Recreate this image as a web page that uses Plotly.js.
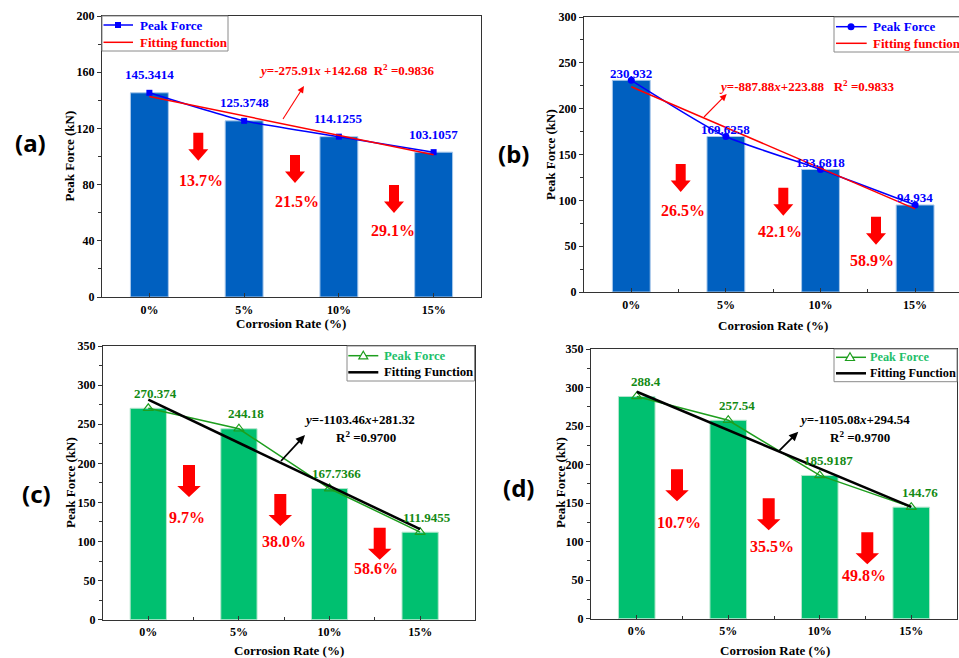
<!DOCTYPE html>
<html><head><meta charset="utf-8">
<script src="https://cdn.plot.ly/plotly-3.0.1.min.js"></script>
<style>html,body{margin:0;padding:0;background:#fff}</style>
</head><body><div id="chart" style="width:959px;height:658px"></div>
<script>
// ---------- data ----------
const categories = ['0%', '5%', '10%', '15%'];
const peakA = [145.3414, 125.3748, 114.1255, 103.1057];
const fitA  = [142.68, 101.29];
const dropA = ['13.7%', '21.5%', '29.1%'];
const peakB = [230.932, 169.6258, 133.6818, 94.934];
const fitB  = [223.88, 90.7];
const dropB = ['26.5%', '42.1%', '58.9%'];
const peakC = [270.374, 244.18, 167.7366, 111.9455];
const fitC  = [281.32, 115.8];
const dropC = ['9.7%', '38.0%', '58.6%'];
const peakD = [288.4, 257.54, 185.9187, 144.76];
const fitD  = [294.54, 145.0];
const dropD = ['10.7%', '35.5%', '49.8%'];
const eqA = ['<i>y</i>=-275.91<i>x</i> +142.68\u00a0\u00a0R<sup>2</sup> =0.9836'];
const eqB = ['<i>y</i>=-887.88<i>x</i>+223.88\u00a0\u00a0\u00a0R<sup>2</sup> =0.9833'];
const eqC = ['<i>y</i>=-1103.46<i>x</i>+281.32', 'R<sup>2</sup> =0.9700'];
const eqD = ['<i>y</i>=-1105.08<i>x</i>+294.54', 'R<sup>2</sup> =0.9700'];
const panelLabels = ['(a)', '(b)', '(c)', '(d)'];
const seriesName = 'Peak Force';
const fitNames = ['Fitting function', 'Fitting function', 'Fitting Function', 'Fitting Function'];

// ---------- layout helpers ----------
const W = 959, H = 658;
const fx = p => p / W, fy = p => 1 - p / H;
const SERIF = 'Liberation Serif';
const AX = '#333333';

const panels = [
  {k:'', peak:peakA, fit:fitA, drop:dropA, eq:eqA, label:panelLabels[0], fitName:fitNames[0],
   px:[102,481], py:[16,297], xr:[-0.5,3.5], yr:[0,200], dt:40, mdt:20, mirrorY:true, xminor:false,
   bar:'#0060C0', barLine:'#a9c8ea', line:'#0000FF', mk:'square', spline:true,
   fitColor:'#FF0000', fitW:1.5, lab:'#0000FF', shift:[0,18], peakLeg:'#0000FF', fitLeg:'#FF0000',
   legBox:[102,16,228,51], legRows:[25,42.3], legLine:[103.5,133], legMk:118, legTx:137.7, legFs:13,
   arrows:[[198.3,132.7],[295,155],[394,185]], arr:[20,10,28,11.5],
   dropPos:[[201.3,180],[296.7,201.7],[392.5,230]],
   eqPos:[[347,70]], ptr:[304,86,283,119], ptrColor:'#FF0000', ptrW:1.1,
   ytitle:[69,156.5], xtitle:[291,323], plab:[30,142.5]},
  {k:'2', peak:peakB, fit:fitB, drop:dropB, eq:eqB, label:panelLabels[1], fitName:fitNames[1],
   px:[584,959], py:[17,292], xr:[-0.5,3.464], yr:[0,300], dt:50, mdt:25, mirrorY:false, xminor:true,
   bar:'#0060C0', barLine:'#a9c8ea', line:'#0000FF', mk:'circle', spline:true,
   fitColor:'#FF0000', fitW:1.5, lab:'#0000FF', shift:[0,7], peakLeg:'#0000FF', fitLeg:'#FF0000',
   legBox:[834,17,964,52], legRows:[26.7,43.3], legLine:[836,866.7], legMk:851, legTx:870.7, legFs:13,
   arrows:[[680.7,164],[783.3,187.7],[876,216.7]], arr:[20,10,28,11.5],
   dropPos:[[683.3,211],[779.7,231.7],[871.7,260]],
   eqPos:[[806.7,86]], ptr:[726.7,94,704,117], ptrColor:'#FF0000', ptrW:1.1,
   ytitle:[550,155], xtitle:[773,325], plab:[513.8,153.8]},
  {k:'3', peak:peakC, fit:fitC, drop:dropC, eq:eqC, label:panelLabels[2], fitName:fitNames[2],
   px:[103,474.5], py:[346,619.7], xr:[-0.5,3.6], yr:[0,350], dt:50, mdt:25, mirrorY:true, xminor:true,
   bar:'#00C070', barLine:'#b5e6cd', line:'#1E9E1E', mk:'triangle', spline:false,
   fitColor:'#000000', fitW:2.5, lab:'#138A13', shift:[7,15], peakLeg:'#1DBF6A', fitLeg:'#000000',
   legBox:[347,346,474.5,381], legRows:[355.7,372.3], legLine:[348.3,378.3], legMk:363.3, legTx:382.3, legFs:12.8,
   arrows:[[189,465],[280.3,494],[379.7,527.7]], arr:[23.5,12,32,11],
   dropPos:[[186.7,517.3],[284,541.7],[375.7,568.3]],
   eqPos:[[359,419.3],[365.5,437]], ptr:[305,435,281,461], ptrColor:'#000000', ptrW:1.8,
   ytitle:[70,483], xtitle:[289,650], plab:[36.3,493.3]},
  {k:'4', peak:peakD, fit:fitD, drop:dropD, eq:eqD, label:panelLabels[3], fitName:fitNames[3],
   px:[591,957], py:[349,618.7], xr:[-0.5,3.5], yr:[0,350], dt:50, mdt:25, mirrorY:true, xminor:true,
   bar:'#00C070', barLine:'#b5e6cd', line:'#1E9E1E', mk:'triangle', spline:false,
   fitColor:'#000000', fitW:2.5, lab:'#138A13', shift:[9,15], peakLeg:'#1DBF6A', fitLeg:'#000000',
   legBox:[834,349,957,381.7], legRows:[357.3,373.3], legLine:[836,866], legMk:850, legTx:868, legFs:12.3,
   arrows:[[677,469.3],[768.7,498.3],[867.3,532.3]], arr:[23.5,12,32,11],
   dropPos:[[679.2,522.3],[771.7,546.7],[863.5,575]],
   eqPos:[[854.3,419.3],[860,437.3]], ptr:[798.3,431.7,779.3,450.7], ptrColor:'#000000', ptrW:1.8,
   ytitle:[560,483], xtitle:[774.7,650], plab:[518,487.5]}
];

const markerDefs = {
  square:   {symbol:'square', size:6},
  circle:   {symbol:'circle', size:7},
  triangle: {symbol:'triangle-up-open', size:9, line:{width:1.2}}
};

const traces = [];
const layout = {
  width: W, height: H, margin: {l:0, r:0, t:0, b:0},
  paper_bgcolor: '#ffffff', plot_bgcolor: '#ffffff',
  showlegend: false, annotations: [], shapes: [],
  font: {family: SERIF, size: 13, color: '#000'}
};

function blockArrow(cx, top, w, s, ht, hh) {
  const a = -(ht - hh);
  return {type:'path', xref:'paper', yref:'paper', xsizemode:'pixel', ysizemode:'pixel',
    xanchor: fx(cx), yanchor: fy(top),
    path:`M${-s/2},0 L${s/2},0 L${s/2},${a} L${w/2},${a} L0,${-ht} L${-w/2},${a} L${-s/2},${a} Z`,
    fillcolor:'#FF0000', line:{width:0}, layer:'above'};
}
// thin pointer arrow from tail (tx,ty) to head (hx,hy), pixel coords (y down)
function pointer(hx, hy, tx, ty, color, w) {
  const dx = hx - tx, dy = hy - ty, len = Math.hypot(dx, dy);
  const ux = dx / len, uy = dy / len;
  const L = 3 + 3.5 * w, hw = 1.5 + 1.6 * w;
  const p1 = [-L * ux - hw * uy, -L * uy + hw * ux];
  const p2 = [-L * ux + hw * uy, -L * uy - hw * ux];
  const out = [];
  out.push({type:'line', xref:'paper', yref:'paper', x0: fx(tx), y0: fy(ty),
    x1: fx(hx - 0.6 * L * ux), y1: fy(hy - 0.6 * L * uy), line:{color: color, width: w}, layer:'above'});
  out.push({type:'path', xref:'paper', yref:'paper', xsizemode:'pixel', ysizemode:'pixel',
    xanchor: fx(hx), yanchor: fy(hy),
    path:`M0,0 L${p1[0].toFixed(2)},${(-p1[1]).toFixed(2)} L${p2[0].toFixed(2)},${(-p2[1]).toFixed(2)} Z`,
    fillcolor: color, line:{width:0}, layer:'above'});
  return out;
}
function legendMarker(kind, cx, cy, color) {
  const base = {xref:'paper', yref:'paper', xsizemode:'pixel', ysizemode:'pixel',
    xanchor: fx(cx), yanchor: fy(cy), layer:'above'};
  if (kind === 'square') return Object.assign(base, {type:'path', path:'M-3,-3 L3,-3 L3,3 L-3,3 Z', fillcolor:color, line:{width:0}});
  if (kind === 'circle') return Object.assign(base, {type:'circle', x0:-3.5, x1:3.5, y0:-3.5, y1:3.5, fillcolor:color, line:{width:0}});
  return Object.assign(base, {type:'path', path:'M0,4.5 L4.5,-3.2 L-4.5,-3.2 Z', fillcolor:'#ffffff', line:{color:color, width:1.2}});
}
const txt = (x, y, text, opts) => Object.assign({xref:'paper', yref:'paper', x: fx(x), y: fy(y), text: text,
  showarrow:false, xanchor:'center', yanchor:'middle'}, opts);

panels.forEach(p => {
  const xa = 'x' + p.k, ya = 'y' + p.k;
  const xi = categories.map((c, i) => i);
  traces.push({type:'bar', x: xi, y: p.peak, width: 0.4, xaxis: xa, yaxis: ya,
    marker:{color: p.bar, line:{color: p.barLine, width: 1}}, hoverinfo:'skip'});
  traces.push({type:'scatter', mode:'lines+markers', x: xi, y: p.peak, xaxis: xa, yaxis: ya, name: seriesName,
    line:{color: p.line, width: 1.5, shape: p.spline ? 'spline' : 'linear', smoothing: 0.6},
    marker: Object.assign({color: p.line}, markerDefs[p.mk])});
  traces.push({type:'scatter', mode:'lines', x: [xi[0], xi[xi.length-1]], y: p.fit, xaxis: xa, yaxis: ya,
    name: p.fitName, line:{color: p.fitColor, width: p.fitW}});

  layout['xaxis' + p.k] = {
    domain: [fx(p.px[0]), fx(p.px[1])], range: p.xr, anchor: ya,
    tickmode:'array', tickvals: xi, ticktext: categories,
    ticks:'inside', ticklen: 4, tickwidth: 1, tickcolor: AX,
    showline: true, linecolor: AX, linewidth: 1.2, mirror: true,
    showgrid: false, zeroline: false, fixedrange: true,
    tickfont: {family: SERIF, size: 12, weight: 'bold', color:'#000'},
    ticklabelstandoff: 1,
    minor: p.xminor ? {tickmode:'array', tickvals:[0.5,1.5,2.5], ticks:'inside', ticklen: 3, tickcolor: AX, showgrid:false} : {ticks:''}
  };
  layout['yaxis' + p.k] = {
    domain: [fy(p.py[1]), fy(p.py[0])], range: p.yr, anchor: xa,
    dtick: p.dt, tick0: 0, ticks:'outside', ticklen: 4, tickwidth: 1, tickcolor: AX,
    showline: true, linecolor: AX, linewidth: 1.2, mirror: p.mirrorY,
    showgrid: false, zeroline: false, fixedrange: true,
    tickfont: {family: SERIF, size: 12, weight: 'bold', color:'#000'},
    minor: {dtick: p.mdt, ticks:'outside', ticklen: 2.5, tickcolor: AX, showgrid:false}
  };

  // hand-drawn legend box (keeps text colours of the original)
  const b = p.legBox;
  layout.shapes.push({type:'rect', xref:'paper', yref:'paper', x0: fx(b[0]), x1: fx(b[2]), y0: fy(b[3]), y1: fy(b[1]),
    fillcolor:'#ffffff', line:{color:'#8a8a8a', width:1}, layer:'above'});
  const rowDefs = [
    {color: p.line, w: 1.5, text: seriesName, tc: p.peakLeg, mk: p.mk},
    {color: p.fitColor, w: p.fitW, text: p.fitName, tc: p.fitLeg, mk: null}
  ];
  rowDefs.forEach((r, i) => {
    const y = p.legRows[i];
    layout.shapes.push({type:'line', xref:'paper', yref:'paper', x0: fx(p.legLine[0]), x1: fx(p.legLine[1]),
      y0: fy(y), y1: fy(y), line:{color: r.color, width: r.w}, layer:'above'});
    if (r.mk) layout.shapes.push(legendMarker(r.mk, p.legMk, y, r.color));
    layout.annotations.push(txt(p.legTx, y, r.text, {xanchor:'left',
      font:{family: SERIF, size: p.legFs, weight:'bold', color: r.tc}}));
  });

  // value labels
  p.peak.forEach((v, i) => {
    layout.annotations.push({xref: xa, yref: ya, x: i, y: v, text: String(v), showarrow: false,
      xshift: p.shift[0], yshift: p.shift[1], xanchor:'center', yanchor:'middle',
      font:{family: SERIF, size: 13, weight:'bold', color: p.lab}});
  });
  // drop arrows + percentages
  p.arrows.forEach(a => layout.shapes.push(blockArrow(a[0], a[1], p.arr[0], p.arr[1], p.arr[2], p.arr[3])));
  p.drop.forEach((d, i) => layout.annotations.push(txt(p.dropPos[i][0], p.dropPos[i][1], d,
      {font:{family: SERIF, size: 16, weight:'bold', color:'#FF0000'}})));
  // equations + pointer
  p.eq.forEach((e, i) => layout.annotations.push(txt(p.eqPos[i][0], p.eqPos[i][1], e,
      {font:{family: SERIF, size: 13, weight:'bold', color: p.ptrColor}})));
  pointer(p.ptr[0], p.ptr[1], p.ptr[2], p.ptr[3], p.ptrColor, p.ptrW).forEach(s => layout.shapes.push(s));
  // axis titles
  layout.annotations.push(txt(p.ytitle[0], p.ytitle[1], 'Peak Force (kN)',
    {textangle: -90, font:{family: SERIF, size: 13, weight:'bold', color:'#000'}}));
  layout.annotations.push(txt(p.xtitle[0], p.xtitle[1], 'Corrosion Rate (%)',
    {font:{family: SERIF, size: 13, weight:'bold', color:'#000'}}));
  // panel label
  layout.annotations.push(txt(p.plab[0], p.plab[1], p.label,
    {font:{family:'Noto Sans', size: 24, weight:'bold', color:'#000'}}));
});

Plotly.newPlot('chart', traces, layout, {displayModeBar: false, staticPlot: true});
</script></body></html>
